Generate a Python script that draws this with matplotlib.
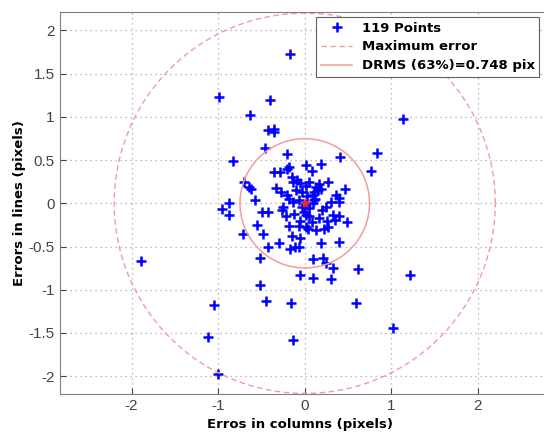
import numpy as np
import matplotlib
matplotlib.use('Agg')
import matplotlib.pyplot as plt

# error of each point, columns (x) and lines (y), in pixels
err_cols = [-0.17, -0.99, -0.40, -0.63, 1.13, -0.43, -0.35, -0.35, -0.46, -0.83,
            0.84, -0.21, 0.41, 0.01, 0.19, 0.77, 0.08, -0.35, -0.29, -0.20,
            -0.18, -0.70, -0.64, -0.62, -0.15, -0.13, -0.09, -0.06, 0.27, -0.33,
            -0.27, -0.21, 0.01, 0.13, 0.11, 0.15, 0.19, 0.09, 0.36, 0.40,
            0.39, 0.47, -0.57, -0.87, -0.96, -0.87, -0.49, -0.43, -0.25, -0.26,
            -0.13, -0.07, -0.03, 0.01, -0.01, 0.01, 0.05, 0.09, 0.11, 0.25,
            0.05, 0.16, 0.33, 0.39, 0.26, 0.27, 0.35, 0.49, -0.55, -0.71,
            -0.48, -0.18, -0.07, 0.02, 0.04, 0.13, -0.15, -0.05, 0.19, 0.39,
            -0.30, -0.43, -0.11, -0.07, -0.17, -0.52, 0.09, 0.21, 0.25, 0.33,
            -1.89, 0.61, 1.22, -0.05, 0.10, 0.30, -0.52, -1.05, -0.45, -0.16,
            0.59, 1.02, -1.12, -0.13, -1.00, -0.10, 0.05, 0.12, -0.05, 0.20,
            -0.18, 0.03, -0.12, 0.30, 0.17, -0.22, 0.08, -0.03, 0.22]
err_lines = [1.73, 1.23, 1.20, 1.02, 0.98, 0.85, 0.86, 0.83, 0.64, 0.49,
             0.58, 0.57, 0.53, 0.44, 0.46, 0.37, 0.37, 0.36, 0.36, 0.40,
             0.42, 0.25, 0.19, 0.17, 0.31, 0.25, 0.27, 0.24, 0.25, 0.18,
             0.13, 0.10, 0.20, 0.19, 0.13, 0.15, 0.16, 0.10, 0.10, 0.06,
             0.02, 0.17, 0.04, 0.00, -0.07, -0.13, -0.10, -0.10, -0.04, -0.08,
             0.02, 0.04, -0.04, -0.02, -0.10, -0.13, -0.06, 0.00, 0.04, -0.04,
             -0.15, -0.17, -0.13, -0.15, -0.20, -0.27, -0.19, -0.22, -0.25, -0.35,
             -0.36, -0.26, -0.26, -0.27, -0.30, -0.31, -0.38, -0.40, -0.46, -0.45,
             -0.46, -0.51, -0.50, -0.51, -0.53, -0.63, -0.65, -0.63, -0.69, -0.75,
             -0.67, -0.76, -0.83, -0.83, -0.87, -0.88, -0.95, -1.18, -1.13, -1.15,
             -1.15, -1.44, -1.55, -1.58, -1.98, 0.15, 0.25, 0.05, -0.20, -0.08,
             0.05, 0.08, -0.12, 0.02, 0.22, -0.15, -0.22, 0.13, -0.30]

drms = 0.748
max_err = 2.2

lbl_font = 'DejaVu Sans'
plt.rcParams['font.family'] = ['Liberation Sans', 'DejaVu Sans']

fig = plt.figure(figsize=(5.44, 4.33), dpi=100)
ax = fig.add_axes([0.1097, 0.0894, 0.901, 0.8822])

ax.plot(err_cols, err_lines, '+', color='#0000ff', markersize=6.5, markeredgewidth=1.8,
        label='%d Points' % len(err_cols))

t = np.linspace(0, 2 * np.pi, 400)
ax.plot(max_err * np.cos(t), max_err * np.sin(t), color='#f29c9c', lw=1,
        dashes=(4, 2.5), label='Maximum error')
ax.plot(drms * np.cos(t), drms * np.sin(t), '-', color='#f29c9c', lw=1.1,
        label='DRMS (63%%)=%.3f pix' % drms)
ax.plot([0], [0], '*', color='#ff2020', markersize=6)

ax.set_xlim(-2.83, 2.83)
ax.set_ylim(-2.21, 2.21)
ax.set_xticks([-2, -1, 0, 1, 2])
ax.set_xticklabels(['-2', '-1', '0', '1', '2'])
ax.set_yticks([-2, -1.5, -1, -0.5, 0, 0.5, 1, 1.5, 2])
ax.set_yticklabels(['-2', '-1.5', '-1', '-0.5', '0', '0.5', '1', '1.5', '2'])
ax.tick_params(direction='in', labelsize=11, colors='#444444', length=4)
ax.grid(True, color='#a8a8a8', linewidth=0.9, dashes=(1, 3))
for s in ax.spines.values():
    s.set_color('#808080')

ax.set_xlabel('Erros in columns (pixels)', fontsize=9.5, fontweight='bold',
              family=lbl_font)
ax.set_ylabel('Errors in lines (pixels)', fontsize=9.5, fontweight='bold',
              family=lbl_font)
ax.xaxis.set_label_coords(0.49, -0.063)
ax.yaxis.set_label_coords(-0.068, 0.5)

leg = ax.legend(loc='upper left', bbox_to_anchor=(0.581, 0.961),
                bbox_transform=fig.transFigure, borderaxespad=0, fancybox=False,
                framealpha=1, edgecolor='#606060', handlelength=2.4, handletextpad=0.7,
                borderpad=0.35, labelspacing=0.45,
                prop={'family': lbl_font, 'weight': 'bold', 'size': 9.5})
leg.get_frame().set_linewidth(0.8)

fig.savefig('out.png', dpi=100)
